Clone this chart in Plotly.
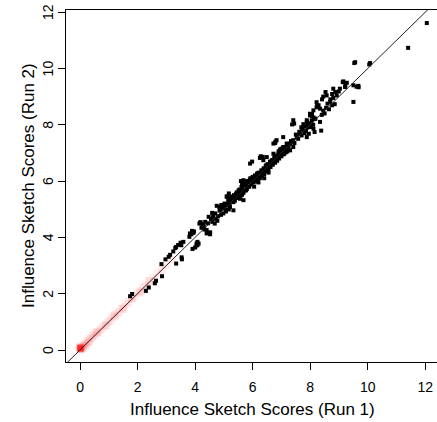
import plotly.graph_objects as go

# ---- data ----
run1 = [1.74,1.81,2.29,2.39,2.60,2.64,2.85,2.83,2.97,3.08,3.13,3.24,3.31,3.41,3.50,3.34,3.54,3.53,3.91,4.08,
        3.80,3.87,3.96,4.12,3.59,3.52,4.05,4.00,3.34,3.50,
        3.82,3.89,3.94,4.15,4.19,4.26,4.40,4.52,4.47,4.59,4.63,4.68,4.77,4.84,4.91,5.00,4.98,5.07,5.17,5.10,
        5.17,5.21,5.28,5.33,5.40,5.44,5.51,5.61,5.67,5.74,5.81,5.54,5.63,5.77,5.84,5.21,5.33,4.05,4.08,4.17,
        4.40,4.52,4.75,5.10,
        4.30,4.35,4.45,4.55,4.60,4.70,4.80,4.85,4.90,4.95,5.02,5.05,5.12,5.15,5.20,5.25,5.30,5.35,5.38,5.45,
        5.48,5.50,5.55,5.58,5.60,5.65,5.68,5.70,5.72,5.78,5.80,5.85,5.88,5.90,
        5.92,5.95,5.98,6.00,6.02,6.05,6.08,6.10,6.12,6.15,6.18,6.20,6.22,6.25,6.28,6.30,6.32,6.35,6.38,6.40,
        6.42,6.45,6.48,6.50,6.52,6.55,6.58,6.60,6.62,6.65,6.68,6.70,6.72,6.75,6.78,6.80,6.82,6.85,6.88,6.90,
        6.92,6.95,6.98,7.00,7.02,7.05,7.08,7.10,7.12,7.15,7.18,7.20,7.22,7.25,
        6.72,6.83,5.91,5.98,6.28,6.72,6.95,7.06,5.68,5.63,5.44,5.56,5.68,6.25,6.35,6.78,5.59,6.05,6.40,6.20,
        6.55,
        8.22,8.24,7.99,8.06,8.11,7.41,7.44,7.37,7.88,7.92,7.76,7.64,7.53,7.41,7.30,7.88,7.95,7.06,6.79,7.18,
        7.30,7.41,6.49,6.37,7.35,7.45,7.50,7.58,7.62,7.70,7.72,7.80,7.82,7.85,7.90,7.98,8.02,8.05,8.10,8.15,
        6.90,7.00,7.10,7.20,
        9.56,9.15,9.22,9.27,9.50,9.61,9.68,9.50,8.80,8.87,8.92,8.76,8.80,8.99,9.03,8.53,8.57,8.45,8.41,8.69,
        8.76,8.85,8.29,8.22,8.34,8.06,7.99,8.11,8.18,7.88,7.95,7.76,7.69,8.34,8.38,8.11,8.15,9.13,9.21,9.67,
        9.53,10.08,10.05,11.40,12.05,
        8.45,8.55,8.60,8.65,8.70,8.40,8.50,
        4.22,4.32,4.62,4.73,4.88,5.08,5.27,5.42,5.57,5.75,6.03,6.17,6.33,6.47,6.63,6.77,6.93,7.07,7.23,7.33]
run2 = [1.91,1.99,2.10,2.22,2.37,2.46,2.62,3.05,3.22,3.31,3.38,3.50,3.62,3.73,3.81,3.07,3.22,3.29,3.59,3.73,
        4.02,4.11,4.21,3.78,3.84,3.72,3.71,3.64,3.66,3.80,
        4.14,4.23,4.16,4.49,4.54,4.47,4.26,4.18,4.73,4.87,4.80,4.49,4.59,5.08,5.15,5.11,4.85,4.92,4.99,5.44,
        5.56,5.37,5.32,5.25,5.41,5.51,5.67,5.79,5.89,5.96,6.00,5.44,5.51,5.67,5.79,5.08,4.96,3.78,3.84,4.52,
        4.14,4.11,5.12,5.46,
        4.40,4.55,4.50,4.65,4.55,4.85,4.75,4.95,4.80,5.05,5.20,5.00,5.15,5.30,5.22,5.45,5.40,5.50,5.30,5.60,
        5.40,5.55,5.70,5.48,5.62,5.75,5.58,5.85,5.66,5.90,5.72,5.95,5.80,6.05,
        6.10,5.88,6.02,6.15,5.95,6.08,6.20,5.98,6.12,6.25,6.05,6.18,6.30,6.10,6.24,6.38,6.18,6.32,6.45,6.25,
        6.40,6.52,6.35,6.48,6.60,6.42,6.55,6.68,6.50,6.62,6.75,6.58,6.70,6.82,6.65,6.78,6.90,6.72,6.85,6.98,
        6.80,6.92,7.05,6.88,7.00,7.12,6.95,7.08,7.20,7.02,7.15,7.28,7.10,7.22,
        7.33,7.45,6.62,6.69,6.88,6.97,7.12,7.21,6.03,5.91,5.44,5.37,5.32,6.82,6.86,7.35,6.00,5.80,6.10,5.95,
        6.30,
        8.80,8.69,8.39,8.30,8.51,8.16,8.04,8.01,8.16,8.04,7.80,7.68,7.56,7.45,7.33,7.56,7.68,7.56,7.40,7.33,
        7.09,7.21,6.85,6.74,7.40,7.35,7.65,7.50,7.75,7.62,7.85,7.70,7.95,7.78,7.90,8.05,7.92,8.15,8.00,8.20,
        7.05,7.15,6.98,7.05,
        10.22,9.54,9.40,9.49,9.40,9.35,9.33,8.81,9.28,9.16,9.04,9.09,8.95,9.18,9.28,9.16,9.04,9.00,8.90,8.81,
        8.69,8.73,8.69,8.62,8.57,8.38,8.33,8.26,8.22,8.10,7.98,8.02,7.91,8.10,7.79,7.86,7.74,9.51,9.34,9.38,
        10.19,10.19,10.14,10.73,11.61,
        8.50,8.60,8.75,8.55,8.90,8.35,8.40,
        4.34,4.28,4.70,4.66,5.00,5.18,5.36,5.55,5.52,5.86,6.12,6.28,6.26,6.56,6.70,6.90,7.06,7.18,7.32,7.42]

# faint red cloud near the origin
red_run1 = [0.00,0.01,0.02,0.03,0.00,0.02,0.05,0.08,0.12,0.16,0.20,0.25,0.30,0.35,0.40,0.45,0.50,0.55,0.60,0.68,
            0.75,0.82,0.90,0.98,1.05,1.12,1.20,1.28,1.36,1.44,1.52,1.60,1.70,1.80,1.90,2.00,2.10,2.20,2.30,2.42,
            2.55,2.70,2.85,3.00,3.20,0.30,0.60,0.90,1.20,1.50,1.80,2.10,2.40,0.10,0.20]
red_run2 = [0.05,0.07,0.04,0.08,0.10,0.02,0.09,0.12,0.15,0.20,0.22,0.30,0.33,0.40,0.43,0.50,0.52,0.60,0.62,0.70,
            0.76,0.85,0.90,1.00,1.04,1.15,1.20,1.30,1.35,1.46,1.52,1.63,1.70,1.82,1.90,2.03,2.10,2.22,2.30,2.45,
            2.55,2.72,2.85,3.02,3.20,0.26,0.64,0.86,1.24,1.46,1.84,2.06,2.44,0.06,0.14]

identity_ends = [-1, 13]
tick_vals = [0, 2, 4, 6, 8, 10, 12]
tick_text = ["0", "2", "4", "6", "8", "10", "12"]
x_title = "Influence Sketch Scores (Run 1)"
y_title = "Influence Sketch Scores (Run 2)"

FONT = "Liberation Sans, Arial, sans-serif"
W, H = 437, 422
ML, MR, MT, MB = 66, 0, 10, 60

fig = go.Figure()
fig.add_trace(go.Scatter(x=red_run1, y=red_run2, mode="markers",
                         marker=dict(symbol="square", size=8, color="rgba(255,0,0,0.07)", line=dict(width=0)),
                         hoverinfo="skip", showlegend=False))
fig.add_trace(go.Scatter(x=red_run1[:6], y=red_run2[:6], mode="markers",
                         marker=dict(symbol="square", size=6, color="rgba(255,0,0,0.2)", line=dict(width=0)),
                         hoverinfo="skip", showlegend=False))
fig.add_trace(go.Scatter(x=run1, y=run2, mode="markers",
                         marker=dict(symbol="square", size=4, color="black", line=dict(width=0)),
                         showlegend=False))
fig.add_trace(go.Scatter(x=identity_ends, y=identity_ends, mode="lines",
                         line=dict(color="#222222", width=1), hoverinfo="skip", showlegend=False))

plot_h = H - MT - MB
plot_w = W - ML - MR

annotations = [
    dict(text=x_title, xref="paper", yref="paper",
         x=(252 - ML) / plot_w, y=-(409 - 362) / plot_h,
         xanchor="center", yanchor="middle", showarrow=False, font=dict(size=17)),
    dict(text=y_title, xref="paper", yref="paper",
         x=-(66 - 28) / plot_w, y=(362 - 186) / plot_h,
         xanchor="center", yanchor="middle", showarrow=False, textangle=-90, font=dict(size=17)),
]
# rotated y tick labels (R style)
for v, t in zip(tick_vals, tick_text):
    annotations.append(dict(text=t, xref="paper", yref="y", x=-(66 - 48) / plot_w, y=v,
                            xanchor="center", yanchor="middle", showarrow=False,
                            textangle=-90, font=dict(size=14)))

fig.update_layout(
    width=W, height=H,
    margin=dict(l=ML, r=MR, t=MT, b=MB, autoexpand=False),
    plot_bgcolor="white", paper_bgcolor="white",
    font=dict(family=FONT, color="black", size=14),
    xaxis=dict(range=[-0.487, 12.404], tickvals=tick_vals, ticktext=tick_text,
               ticks="outside", ticklen=7, tickwidth=1, tickcolor="black",
               showline=True, mirror=True, linecolor="black", linewidth=1,
               showgrid=False, zeroline=False, tickfont=dict(size=14),
               automargin=False, ticklabelstandoff=5),
    yaxis=dict(range=[-0.426, 12.074], tickvals=tick_vals, showticklabels=False,
               ticks="outside", ticklen=7, tickwidth=1, tickcolor="black",
               showline=True, mirror=False, linecolor="black", linewidth=1,
               showgrid=False, zeroline=False, automargin=False),
    annotations=annotations,
)

fig.write_html("out.html", config={"displayModeBar": False},
               post_script="document.body.style.margin='0';document.body.style.padding='0';")
